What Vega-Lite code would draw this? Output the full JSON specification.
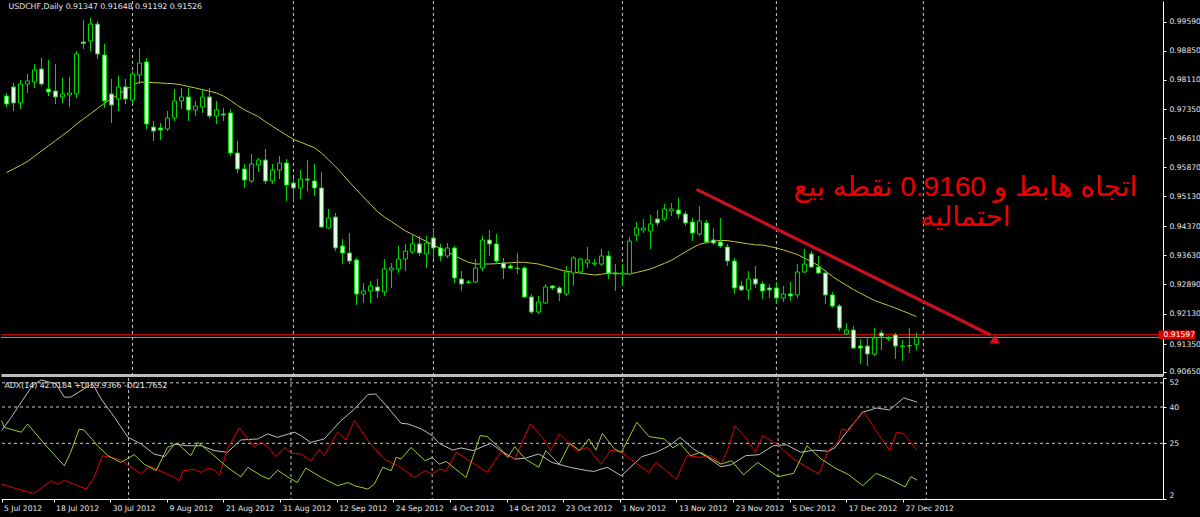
{
  "$schema": "https://vega.github.io/schema/vega-lite/v6.json",
  "background": "#000000",
  "padding": {"left": 0, "top": 0, "right": 0, "bottom": 6},
  "autosize": {"type": "pad"},
  "spacing": 1,
  "resolve": {"scale": {"color": "independent"}},
  "config": {
    "view": {"stroke": null},
    "axis": {"labelFont": "DejaVu Sans", "labelFontSize": 7.6, "labelColor": "#e6e6e6", "domainColor": "#ffffff", "tickColor": "#ffffff", "labelOverlap": false}
  },
  "datasets": {
    "candles": [
      {"i":0,"open":0.97692,"high":0.97769,"low":0.97412,"close":0.97488,"ma":0.95738},
      {"i":1,"open":0.97923,"high":0.98025,"low":0.97309,"close":0.97514,"ma":0.95828},
      {"i":2,"open":0.97514,"high":0.98102,"low":0.97361,"close":0.97999,"ma":0.95920},
      {"i":3,"open":0.97999,"high":0.98254,"low":0.97769,"close":0.98076,"ma":0.96019},
      {"i":4,"open":0.98050,"high":0.98509,"low":0.97897,"close":0.98357,"ma":0.96152},
      {"i":5,"open":0.98382,"high":0.98663,"low":0.97948,"close":0.97999,"ma":0.96288},
      {"i":6,"open":0.97871,"high":0.98612,"low":0.97692,"close":0.97795,"ma":0.96420},
      {"i":7,"open":0.97820,"high":0.98509,"low":0.97488,"close":0.97667,"ma":0.96551},
      {"i":8,"open":0.97667,"high":0.98153,"low":0.97514,"close":0.97744,"ma":0.96686},
      {"i":9,"open":0.97718,"high":0.98178,"low":0.97412,"close":0.97769,"ma":0.96819},
      {"i":10,"open":0.97744,"high":0.98842,"low":0.97641,"close":0.98765,"ma":0.96972},
      {"i":11,"open":0.99071,"high":0.99634,"low":0.98893,"close":0.99033,"ma":0.97107},
      {"i":12,"open":0.99097,"high":0.99685,"low":0.98842,"close":0.99530,"ma":0.97238},
      {"i":13,"open":0.99530,"high":0.99608,"low":0.98637,"close":0.98765,"ma":0.97373},
      {"i":14,"open":0.98740,"high":0.99020,"low":0.97386,"close":0.97565,"ma":0.97509},
      {"i":15,"open":0.97744,"high":0.98127,"low":0.97003,"close":0.97463,"ma":0.97623},
      {"i":16,"open":0.97616,"high":0.98204,"low":0.97309,"close":0.97923,"ma":0.97736},
      {"i":17,"open":0.97923,"high":0.98127,"low":0.97488,"close":0.97616,"ma":0.97851},
      {"i":18,"open":0.97590,"high":0.98331,"low":0.97488,"close":0.98254,"ma":0.97961},
      {"i":19,"open":0.98229,"high":0.98918,"low":0.97999,"close":0.98535,"ma":0.98050},
      {"i":20,"open":0.98561,"high":0.98663,"low":0.96849,"close":0.96977,"ma":0.98042},
      {"i":21,"open":0.96900,"high":0.97054,"low":0.96543,"close":0.96798,"ma":0.98035},
      {"i":22,"open":0.96875,"high":0.97003,"low":0.96569,"close":0.96824,"ma":0.98025},
      {"i":23,"open":0.96849,"high":0.97309,"low":0.96798,"close":0.97130,"ma":0.98014},
      {"i":24,"open":0.97130,"high":0.97871,"low":0.97054,"close":0.97565,"ma":0.98004},
      {"i":25,"open":0.97565,"high":0.97897,"low":0.97360,"close":0.97667,"ma":0.97976},
      {"i":26,"open":0.97667,"high":0.97897,"low":0.97054,"close":0.97335,"ma":0.97935},
      {"i":27,"open":0.97335,"high":0.97565,"low":0.97182,"close":0.97437,"ma":0.97897},
      {"i":28,"open":0.97412,"high":0.97871,"low":0.97258,"close":0.97667,"ma":0.97856},
      {"i":29,"open":0.97667,"high":0.97897,"low":0.97130,"close":0.97182,"ma":0.97815},
      {"i":30,"open":0.97182,"high":0.97565,"low":0.96977,"close":0.97335,"ma":0.97769},
      {"i":31,"open":0.97233,"high":0.97386,"low":0.97054,"close":0.97207,"ma":0.97692},
      {"i":32,"open":0.97258,"high":0.97360,"low":0.96160,"close":0.96237,"ma":0.97580},
      {"i":33,"open":0.96237,"high":0.96543,"low":0.95726,"close":0.95828,"ma":0.97450},
      {"i":34,"open":0.95828,"high":0.95956,"low":0.95343,"close":0.95547,"ma":0.97340},
      {"i":35,"open":0.95521,"high":0.96211,"low":0.95470,"close":0.95956,"ma":0.97251},
      {"i":36,"open":0.95930,"high":0.96109,"low":0.95751,"close":0.96058,"ma":0.97164},
      {"i":37,"open":0.96058,"high":0.96339,"low":0.95445,"close":0.95521,"ma":0.97036},
      {"i":38,"open":0.95521,"high":0.95956,"low":0.95445,"close":0.95802,"ma":0.96919},
      {"i":39,"open":0.95802,"high":0.96160,"low":0.95572,"close":0.95981,"ma":0.96804},
      {"i":40,"open":0.95981,"high":0.96083,"low":0.95010,"close":0.95419,"ma":0.96691},
      {"i":41,"open":0.95470,"high":0.95598,"low":0.95010,"close":0.95343,"ma":0.96584},
      {"i":42,"open":0.95343,"high":0.95802,"low":0.95061,"close":0.95572,"ma":0.96515},
      {"i":43,"open":0.95572,"high":0.96058,"low":0.95266,"close":0.95547,"ma":0.96443},
      {"i":44,"open":0.95521,"high":0.95956,"low":0.95138,"close":0.95343,"ma":0.96372},
      {"i":45,"open":0.95343,"high":0.95751,"low":0.94321,"close":0.94347,"ma":0.96237},
      {"i":46,"open":0.94321,"high":0.94806,"low":0.94296,"close":0.94577,"ma":0.96063},
      {"i":47,"open":0.94602,"high":0.94704,"low":0.93733,"close":0.93811,"ma":0.95889},
      {"i":48,"open":0.93862,"high":0.94040,"low":0.93401,"close":0.93682,"ma":0.95695},
      {"i":49,"open":0.93682,"high":0.94193,"low":0.93401,"close":0.93478,"ma":0.95493},
      {"i":50,"open":0.93504,"high":0.93555,"low":0.92354,"close":0.92636,"ma":0.95302},
      {"i":51,"open":0.92636,"high":0.92916,"low":0.92405,"close":0.92712,"ma":0.95113},
      {"i":52,"open":0.92712,"high":0.92967,"low":0.92405,"close":0.92840,"ma":0.94926},
      {"i":53,"open":0.92814,"high":0.93018,"low":0.92533,"close":0.92712,"ma":0.94737},
      {"i":54,"open":0.92687,"high":0.93529,"low":0.92584,"close":0.93273,"ma":0.94602},
      {"i":55,"open":0.93248,"high":0.93427,"low":0.92789,"close":0.93299,"ma":0.94484},
      {"i":56,"open":0.93273,"high":0.93861,"low":0.93171,"close":0.93529,"ma":0.94364},
      {"i":57,"open":0.93529,"high":0.93913,"low":0.93222,"close":0.93733,"ma":0.94247},
      {"i":58,"open":0.93708,"high":0.94142,"low":0.93657,"close":0.93913,"ma":0.94157},
      {"i":59,"open":0.93913,"high":0.94117,"low":0.93606,"close":0.93682,"ma":0.94065},
      {"i":60,"open":0.93657,"high":0.94117,"low":0.93299,"close":0.93938,"ma":0.93976},
      {"i":61,"open":0.94066,"high":0.94321,"low":0.93529,"close":0.93810,"ma":0.93887},
      {"i":62,"open":0.93810,"high":0.93913,"low":0.93478,"close":0.93606,"ma":0.93797},
      {"i":63,"open":0.93606,"high":0.93938,"low":0.93555,"close":0.93810,"ma":0.93705},
      {"i":64,"open":0.93810,"high":0.93861,"low":0.92916,"close":0.93044,"ma":0.93618},
      {"i":65,"open":0.93018,"high":0.93222,"low":0.92712,"close":0.92891,"ma":0.93529},
      {"i":66,"open":0.92942,"high":0.92993,"low":0.92891,"close":0.92929,"ma":0.93445},
      {"i":67,"open":0.92942,"high":0.93529,"low":0.92916,"close":0.93299,"ma":0.93401},
      {"i":68,"open":0.93299,"high":0.94117,"low":0.93222,"close":0.94015,"ma":0.93401},
      {"i":69,"open":0.94015,"high":0.94270,"low":0.93606,"close":0.93913,"ma":0.93401},
      {"i":70,"open":0.93913,"high":0.94168,"low":0.93427,"close":0.93478,"ma":0.93409},
      {"i":71,"open":0.93427,"high":0.93555,"low":0.93018,"close":0.93299,"ma":0.93422},
      {"i":72,"open":0.93350,"high":0.93401,"low":0.93273,"close":0.93299,"ma":0.93432},
      {"i":73,"open":0.93299,"high":0.93682,"low":0.93146,"close":0.93286,"ma":0.93445},
      {"i":74,"open":0.93299,"high":0.93350,"low":0.92533,"close":0.92559,"ma":0.93445},
      {"i":75,"open":0.92559,"high":0.92635,"low":0.92124,"close":0.92175,"ma":0.93422},
      {"i":76,"open":0.92175,"high":0.92584,"low":0.92124,"close":0.92431,"ma":0.93401},
      {"i":77,"open":0.92405,"high":0.92891,"low":0.92380,"close":0.92814,"ma":0.93353},
      {"i":78,"open":0.92840,"high":0.92865,"low":0.92738,"close":0.92789,"ma":0.93307},
      {"i":79,"open":0.92789,"high":0.92840,"low":0.92456,"close":0.92661,"ma":0.93256},
      {"i":80,"open":0.92636,"high":0.93350,"low":0.92584,"close":0.93197,"ma":0.93215},
      {"i":81,"open":0.93171,"high":0.93606,"low":0.92840,"close":0.93555,"ma":0.93192},
      {"i":82,"open":0.93197,"high":0.93555,"low":0.93171,"close":0.93529,"ma":0.93169},
      {"i":83,"open":0.93427,"high":0.93836,"low":0.93299,"close":0.93504,"ma":0.93143},
      {"i":84,"open":0.93401,"high":0.93529,"low":0.93350,"close":0.93427,"ma":0.93120},
      {"i":85,"open":0.93401,"high":0.93785,"low":0.93350,"close":0.93606,"ma":0.93141},
      {"i":86,"open":0.93606,"high":0.93733,"low":0.93018,"close":0.93171,"ma":0.93164},
      {"i":87,"open":0.93171,"high":0.93401,"low":0.92712,"close":0.93146,"ma":0.93166},
      {"i":88,"open":0.93146,"high":0.93401,"low":0.92840,"close":0.93171,"ma":0.93156},
      {"i":89,"open":0.93146,"high":0.94091,"low":0.93120,"close":0.93989,"ma":0.93146},
      {"i":90,"open":0.94142,"high":0.94474,"low":0.93989,"close":0.94321,"ma":0.93184},
      {"i":91,"open":0.94270,"high":0.94551,"low":0.94193,"close":0.94321,"ma":0.93228},
      {"i":92,"open":0.94244,"high":0.94653,"low":0.93785,"close":0.94423,"ma":0.93274},
      {"i":93,"open":0.94551,"high":0.94781,"low":0.94372,"close":0.94449,"ma":0.93345},
      {"i":94,"open":0.94551,"high":0.94934,"low":0.94500,"close":0.94806,"ma":0.93417},
      {"i":95,"open":0.94755,"high":0.94959,"low":0.94628,"close":0.94806,"ma":0.93496},
      {"i":96,"open":0.94781,"high":0.95087,"low":0.94577,"close":0.94679,"ma":0.93603},
      {"i":97,"open":0.94679,"high":0.94755,"low":0.94372,"close":0.94449,"ma":0.93710},
      {"i":98,"open":0.94474,"high":0.94577,"low":0.93989,"close":0.94193,"ma":0.93812},
      {"i":99,"open":0.94168,"high":0.94883,"low":0.94117,"close":0.94500,"ma":0.93902},
      {"i":100,"open":0.94449,"high":0.94525,"low":0.93913,"close":0.93963,"ma":0.93950},
      {"i":101,"open":0.94015,"high":0.94321,"low":0.93887,"close":0.93938,"ma":0.93979},
      {"i":102,"open":0.93963,"high":0.94577,"low":0.93810,"close":0.93861,"ma":0.94004},
      {"i":103,"open":0.93836,"high":0.93913,"low":0.93350,"close":0.93478,"ma":0.93999},
      {"i":104,"open":0.93478,"high":0.93555,"low":0.92636,"close":0.92789,"ma":0.93971},
      {"i":105,"open":0.92840,"high":0.92967,"low":0.92712,"close":0.92738,"ma":0.93943},
      {"i":106,"open":0.92738,"high":0.93222,"low":0.92482,"close":0.93018,"ma":0.93915},
      {"i":107,"open":0.93018,"high":0.93350,"low":0.92789,"close":0.92891,"ma":0.93889},
      {"i":108,"open":0.92891,"high":0.92967,"low":0.92507,"close":0.92712,"ma":0.93887},
      {"i":109,"open":0.92789,"high":0.92891,"low":0.92533,"close":0.92738,"ma":0.93848},
      {"i":110,"open":0.92789,"high":0.92942,"low":0.92380,"close":0.92533,"ma":0.93810},
      {"i":111,"open":0.92533,"high":0.92840,"low":0.92431,"close":0.92636,"ma":0.93759},
      {"i":112,"open":0.92636,"high":0.92942,"low":0.92456,"close":0.92584,"ma":0.93703},
      {"i":113,"open":0.92610,"high":0.93401,"low":0.92533,"close":0.93197,"ma":0.93641},
      {"i":114,"open":0.93197,"high":0.93785,"low":0.93171,"close":0.93401,"ma":0.93552},
      {"i":115,"open":0.93657,"high":0.93733,"low":0.93299,"close":0.93324,"ma":0.93460},
      {"i":116,"open":0.93324,"high":0.93606,"low":0.93146,"close":0.93171,"ma":0.93363},
      {"i":117,"open":0.93171,"high":0.93248,"low":0.92380,"close":0.92610,"ma":0.93220},
      {"i":118,"open":0.92610,"high":0.92687,"low":0.92277,"close":0.92328,"ma":0.93085},
      {"i":119,"open":0.92328,"high":0.92380,"low":0.91690,"close":0.91766,"ma":0.92967},
      {"i":120,"open":0.91613,"high":0.91894,"low":0.91587,"close":0.91715,"ma":0.92857},
      {"i":121,"open":0.91715,"high":0.91817,"low":0.91230,"close":0.91255,"ma":0.92750},
      {"i":122,"open":0.91306,"high":0.91485,"low":0.90847,"close":0.91255,"ma":0.92653},
      {"i":123,"open":0.91306,"high":0.91511,"low":0.90796,"close":0.91102,"ma":0.92561},
      {"i":124,"open":0.91102,"high":0.91766,"low":0.91051,"close":0.91511,"ma":0.92471},
      {"i":125,"open":0.91639,"high":0.91715,"low":0.91204,"close":0.91562,"ma":0.92405},
      {"i":126,"open":0.91511,"high":0.91562,"low":0.91434,"close":0.91498,"ma":0.92341},
      {"i":127,"open":0.91587,"high":0.91639,"low":0.90975,"close":0.91306,"ma":0.92277},
      {"i":128,"open":0.91306,"high":0.91460,"low":0.90924,"close":0.91294,"ma":0.92206},
      {"i":129,"open":0.91306,"high":0.91766,"low":0.91128,"close":0.91319,"ma":0.92134},
      {"i":130,"open":0.91347,"high":0.91648,"low":0.91192,"close":0.91526,"ma":0.92060}
    ],
    "adx": [
      {"s":"ADX","i":0,"v":30.2},{"s":"ADX","i":1.4,"v":35.8},{"s":"ADX","i":2.8,"v":42},{"s":"ADX","i":4.4,"v":48.9},{"s":"ADX","i":5.6,"v":51.2},{"s":"ADX","i":7.7,"v":49.6},{"s":"ADX","i":8.9,"v":44.1},{"s":"ADX","i":9.8,"v":44.1},{"s":"ADX","i":11.7,"v":47.5},{"s":"ADX","i":12.9,"v":49.6},{"s":"ADX","i":14.1,"v":43.4},{"s":"ADX","i":16,"v":35.8},{"s":"ADX","i":17.9,"v":27.5},{"s":"ADX","i":19.8,"v":24.7},{"s":"ADX","i":21.6,"v":20.6},{"s":"ADX","i":23.1,"v":19.5},{"s":"ADX","i":24.5,"v":24.7},{"s":"ADX","i":26.4,"v":24},{"s":"ADX","i":28.3,"v":24},{"s":"ADX","i":30.1,"v":22},{"s":"ADX","i":32,"v":21.3},{"s":"ADX","i":33,"v":24},{"s":"ADX","i":33.9,"v":26.4},{"s":"ADX","i":36.3,"v":26.8},{"s":"ADX","i":37.7,"v":28.9},{"s":"ADX","i":39.1,"v":27.5},{"s":"ADX","i":41.5,"v":29.6},{"s":"ADX","i":42.4,"v":28.2},{"s":"ADX","i":43.8,"v":25.4},{"s":"ADX","i":45.7,"v":26.8},{"s":"ADX","i":48.1,"v":34.4},{"s":"ADX","i":50,"v":39.2},{"s":"ADX","i":51.9,"v":45.2},{"s":"ADX","i":53,"v":45.4},{"s":"ADX","i":54.7,"v":39.9},{"s":"ADX","i":56.6,"v":33.3},{"s":"ADX","i":57.6,"v":33},{"s":"ADX","i":59.5,"v":30.9},{"s":"ADX","i":61,"v":28.2},{"s":"ADX","i":62,"v":25},{"s":"ADX","i":63.9,"v":22.2},{"s":"ADX","i":65.1,"v":23.1},{"s":"ADX","i":66.8,"v":22},{"s":"ADX","i":69.3,"v":25},{"s":"ADX","i":70.7,"v":22},{"s":"ADX","i":72.7,"v":18.5},{"s":"ADX","i":74.2,"v":18.9},{"s":"ADX","i":76.1,"v":20.6},{"s":"ADX","i":78,"v":17.1},{"s":"ADX","i":80.5,"v":15.1},{"s":"ADX","i":83,"v":13.7},{"s":"ADX","i":83.9,"v":13.4},{"s":"ADX","i":85.8,"v":15.1},{"s":"ADX","i":87.8,"v":11.6},{"s":"ADX","i":90.7,"v":19.5},{"s":"ADX","i":92.7,"v":21.3},{"s":"ADX","i":94.6,"v":24},{"s":"ADX","i":96.1,"v":27.5},{"s":"ADX","i":98,"v":22.7},{"s":"ADX","i":100,"v":19.2},{"s":"ADX","i":101.9,"v":15.3},{"s":"ADX","i":103.4,"v":16.2},{"s":"ADX","i":105.4,"v":19.9},{"s":"ADX","i":107.3,"v":20.3},{"s":"ADX","i":109.3,"v":24},{"s":"ADX","i":111.2,"v":24.4},{"s":"ADX","i":113.2,"v":21.3},{"s":"ADX","i":115.1,"v":22.2},{"s":"ADX","i":117.1,"v":21.7},{"s":"ADX","i":118.1,"v":23.3},{"s":"ADX","i":120,"v":30.9},{"s":"ADX","i":122,"v":37.8},{"s":"ADX","i":123.9,"v":39.6},{"s":"ADX","i":125.8,"v":38.8},{"s":"ADX","i":127.8,"v":43.8},{"s":"ADX","i":129.7,"v":42},
      {"s":"-DI","i":0,"v":8.1},{"s":"-DI","i":2.3,"v":6.1},{"s":"-DI","i":4.6,"v":4.3},{"s":"-DI","i":5.6,"v":6.5},{"s":"-DI","i":7,"v":9.5},{"s":"-DI","i":8,"v":8.1},{"s":"-DI","i":8.9,"v":9.8},{"s":"-DI","i":10.3,"v":8.1},{"s":"-DI","i":12,"v":6.1},{"s":"-DI","i":13.1,"v":10.9},{"s":"-DI","i":14.3,"v":19.9},{"s":"-DI","i":15.5,"v":19.2},{"s":"-DI","i":16.9,"v":18.1},{"s":"-DI","i":18.1,"v":15.7},{"s":"-DI","i":19.8,"v":12.3},{"s":"-DI","i":20.9,"v":15.7},{"s":"-DI","i":22.6,"v":13.4},{"s":"-DI","i":24.5,"v":10.9},{"s":"-DI","i":25.2,"v":9.5},{"s":"-DI","i":25.7,"v":13.7},{"s":"-DI","i":27.3,"v":14.2},{"s":"-DI","i":28.3,"v":13},{"s":"-DI","i":29.2,"v":14.8},{"s":"-DI","i":30.1,"v":14},{"s":"-DI","i":30.9,"v":12},{"s":"-DI","i":32,"v":22.7},{"s":"-DI","i":33.7,"v":31.4},{"s":"-DI","i":34.9,"v":26.8},{"s":"-DI","i":35.8,"v":23.6},{"s":"-DI","i":36.8,"v":25.4},{"s":"-DI","i":37.7,"v":23.6},{"s":"-DI","i":38.9,"v":19.5},{"s":"-DI","i":40.1,"v":23.3},{"s":"-DI","i":41,"v":20.9},{"s":"-DI","i":42.4,"v":20.6},{"s":"-DI","i":43.8,"v":17.8},{"s":"-DI","i":45,"v":22.5},{"s":"-DI","i":45.7,"v":19.9},{"s":"-DI","i":47.6,"v":29.6},{"s":"-DI","i":48.8,"v":26.4},{"s":"-DI","i":50,"v":34.4},{"s":"-DI","i":51.9,"v":26.1},{"s":"-DI","i":54.2,"v":18.5},{"s":"-DI","i":56.6,"v":15},{"s":"-DI","i":58.5,"v":10.9},{"s":"-DI","i":60,"v":13.7},{"s":"-DI","i":61,"v":12.3},{"s":"-DI","i":62,"v":14.4},{"s":"-DI","i":63,"v":13.7},{"s":"-DI","i":64.4,"v":21.3},{"s":"-DI","i":66.3,"v":17.8},{"s":"-DI","i":68.8,"v":13},{"s":"-DI","i":70.7,"v":21.3},{"s":"-DI","i":72.7,"v":18.5},{"s":"-DI","i":74.9,"v":33},{"s":"-DI","i":76.6,"v":27.5},{"s":"-DI","i":77.8,"v":22},{"s":"-DI","i":79,"v":28.9},{"s":"-DI","i":80.5,"v":24.7},{"s":"-DI","i":81.5,"v":22},{"s":"-DI","i":83,"v":23.3},{"s":"-DI","i":84.9,"v":16.4},{"s":"-DI","i":86.3,"v":22.2},{"s":"-DI","i":87.8,"v":21.3},{"s":"-DI","i":90.7,"v":15.1},{"s":"-DI","i":91.7,"v":13},{"s":"-DI","i":92.7,"v":17.1},{"s":"-DI","i":95.6,"v":10.2},{"s":"-DI","i":97.1,"v":19.9},{"s":"-DI","i":99,"v":19.2},{"s":"-DI","i":100.5,"v":19.9},{"s":"-DI","i":101.9,"v":16.4},{"s":"-DI","i":102.9,"v":22.7},{"s":"-DI","i":103.9,"v":32.3},{"s":"-DI","i":105.4,"v":27.5},{"s":"-DI","i":106.8,"v":21.3},{"s":"-DI","i":107.8,"v":28.2},{"s":"-DI","i":109.8,"v":24.7},{"s":"-DI","i":112.2,"v":18.5},{"s":"-DI","i":114.1,"v":15.1},{"s":"-DI","i":115.8,"v":12.3},{"s":"-DI","i":117.1,"v":22},{"s":"-DI","i":118.5,"v":25.4},{"s":"-DI","i":119,"v":30.9},{"s":"-DI","i":120,"v":30.2},{"s":"-DI","i":122,"v":38.5},{"s":"-DI","i":123.9,"v":30.2},{"s":"-DI","i":125.8,"v":22},{"s":"-DI","i":126.8,"v":29.6},{"s":"-DI","i":127.8,"v":28.9},{"s":"-DI","i":129.7,"v":22},
      {"s":"+DI","i":0,"v":34.4},{"s":"+DI","i":0.4,"v":31.6},{"s":"+DI","i":2.8,"v":29.6},{"s":"+DI","i":3.7,"v":33},{"s":"+DI","i":6.1,"v":24.7},{"s":"+DI","i":8.9,"v":15.7},{"s":"+DI","i":9.8,"v":21.3},{"s":"+DI","i":11,"v":30.9},{"s":"+DI","i":11.7,"v":30.5},{"s":"+DI","i":13.6,"v":24},{"s":"+DI","i":15.1,"v":19.9},{"s":"+DI","i":16.9,"v":17.1},{"s":"+DI","i":18.8,"v":20.3},{"s":"+DI","i":20.2,"v":16.4},{"s":"+DI","i":21.9,"v":13.7},{"s":"+DI","i":23.5,"v":23.3},{"s":"+DI","i":24.9,"v":25},{"s":"+DI","i":26.8,"v":19.9},{"s":"+DI","i":27.8,"v":25.4},{"s":"+DI","i":29.7,"v":20.9},{"s":"+DI","i":32,"v":15.1},{"s":"+DI","i":33.9,"v":11.2},{"s":"+DI","i":34.9,"v":15.1},{"s":"+DI","i":36.8,"v":11.6},{"s":"+DI","i":37.9,"v":10.2},{"s":"+DI","i":39.1,"v":13.9},{"s":"+DI","i":40.5,"v":11.2},{"s":"+DI","i":41.9,"v":8.8},{"s":"+DI","i":43.1,"v":14.8},{"s":"+DI","i":45.3,"v":10.9},{"s":"+DI","i":47.6,"v":7.5},{"s":"+DI","i":49.1,"v":8.8},{"s":"+DI","i":50,"v":7.5},{"s":"+DI","i":51.9,"v":6.1},{"s":"+DI","i":52.8,"v":8.1},{"s":"+DI","i":54,"v":15.1},{"s":"+DI","i":55.2,"v":13.7},{"s":"+DI","i":55.9,"v":19.2},{"s":"+DI","i":56.6,"v":18.5},{"s":"+DI","i":58,"v":23.3},{"s":"+DI","i":60,"v":17.8},{"s":"+DI","i":61,"v":19.2},{"s":"+DI","i":62,"v":16.4},{"s":"+DI","i":63,"v":17.5},{"s":"+DI","i":65.8,"v":10.9},{"s":"+DI","i":67.8,"v":28.2},{"s":"+DI","i":68.8,"v":27.8},{"s":"+DI","i":70.7,"v":22.7},{"s":"+DI","i":71.7,"v":19.2},{"s":"+DI","i":72.7,"v":23.6},{"s":"+DI","i":74.2,"v":18.5},{"s":"+DI","i":76.1,"v":15.1},{"s":"+DI","i":77.1,"v":22},{"s":"+DI","i":79,"v":16.4},{"s":"+DI","i":80.5,"v":25},{"s":"+DI","i":81.9,"v":22},{"s":"+DI","i":83.2,"v":26.8},{"s":"+DI","i":84.2,"v":22.2},{"s":"+DI","i":85.1,"v":29.1},{"s":"+DI","i":86.8,"v":22.7},{"s":"+DI","i":87.8,"v":21.3},{"s":"+DI","i":90,"v":33.7},{"s":"+DI","i":91.7,"v":27.8},{"s":"+DI","i":93.9,"v":26.8},{"s":"+DI","i":95.1,"v":23.1},{"s":"+DI","i":96.1,"v":25},{"s":"+DI","i":97.6,"v":19.9},{"s":"+DI","i":99,"v":21.3},{"s":"+DI","i":101.9,"v":16.4},{"s":"+DI","i":103.4,"v":17.8},{"s":"+DI","i":105.1,"v":12},{"s":"+DI","i":107.1,"v":17.1},{"s":"+DI","i":110,"v":11.2},{"s":"+DI","i":112.2,"v":12.6},{"s":"+DI","i":114.1,"v":24},{"s":"+DI","i":116.1,"v":18.5},{"s":"+DI","i":118.1,"v":14.8},{"s":"+DI","i":120,"v":12},{"s":"+DI","i":122,"v":7.5},{"s":"+DI","i":123.9,"v":12.6},{"s":"+DI","i":125.8,"v":10.2},{"s":"+DI","i":128,"v":7},{"s":"+DI","i":128.8,"v":11.2},{"s":"+DI","i":129.7,"v":9.8}
    ],
    "grid": [{"i":18},{"i":41},{"i":61},{"i":88},{"i":110},{"i":131}]
  },
  "vconcat": [
    {
      "width": 1162,
      "height": 374,
      "layer": [
        {
          "data": {"name": "grid"},
          "mark": {"type": "rule", "color": "#c8c8c8", "strokeWidth": 1, "strokeDash": [3, 3]},
          "encoding": {
            "x": {"field": "i", "type": "quantitative", "title": null, "scale": {"domain": [-0.071, 164.52], "nice": false, "zero": false},
                  "axis": {"title": null, "labels": false, "ticks": false, "grid": false, "domain": true, "domainColor": "#bdbdbd", "domainWidth": 3}}
          }
        },
        {
          "data": {"values": [{"p": 0.91526}]},
          "mark": {"type": "rule", "strokeWidth": 1, "color": "#9a9a9a"},
          "encoding": {
            "y": {"field": "p", "type": "quantitative", "title": null, "scale": {"domain": [0.90566, 1.00119], "nice": false, "zero": false},
                  "axis": {"title": null, "orient": "right", "grid": false, "values": [0.9959, 0.9885, 0.9811, 0.9735, 0.9661, 0.9587, 0.9513, 0.9437, 0.9363, 0.9289, 0.9213, 0.9135, 0.9065], "format": ".5f", "tickSize": 3, "labelPadding": 3, "domainWidth": 1}}
          }
        },
        {
          "data": {"values": [{"p": 0.91597}]},
          "mark": {"type": "rule", "strokeWidth": 1, "color": "#e00000"},
          "encoding": {
            "y": {"field": "p", "type": "quantitative", "title": null, "scale": {"domain": [0.90566, 1.00119], "nice": false, "zero": false},
                  "axis": {"title": null, "orient": "right", "grid": false, "values": [0.9959, 0.9885, 0.9811, 0.9735, 0.9661, 0.9587, 0.9513, 0.9437, 0.9363, 0.9289, 0.9213, 0.9135, 0.9065], "format": ".5f", "tickSize": 3, "labelPadding": 3, "domainWidth": 1}}
          }
        },
        {
          "data": {"name": "candles"},
          "mark": {"type": "line", "color": "#c8c43c", "strokeWidth": 1, "clip": true},
          "encoding": {
            "x": {"field": "i", "type": "quantitative", "title": null, "scale": {"domain": [-0.071, 164.52], "nice": false, "zero": false},
                  "axis": {"title": null, "labels": false, "ticks": false, "grid": false, "domain": true, "domainColor": "#bdbdbd", "domainWidth": 3}},
            "y": {"field": "ma", "type": "quantitative", "title": null, "scale": {"domain": [0.90566, 1.00119], "nice": false, "zero": false},
                  "axis": {"title": null, "orient": "right", "grid": false, "values": [0.9959, 0.9885, 0.9811, 0.9735, 0.9661, 0.9587, 0.9513, 0.9437, 0.9363, 0.9289, 0.9213, 0.9135, 0.9065], "format": ".5f", "tickSize": 3, "labelPadding": 3, "domainWidth": 1}}
          }
        },
        {
          "data": {"name": "candles"},
          "mark": {"type": "rule", "color": "#00dd00", "strokeWidth": 1, "clip": true},
          "encoding": {
            "x": {"field": "i", "type": "quantitative", "title": null, "scale": {"domain": [-0.071, 164.52], "nice": false, "zero": false},
                  "axis": {"title": null, "labels": false, "ticks": false, "grid": false, "domain": true, "domainColor": "#bdbdbd", "domainWidth": 3}},
            "y": {"field": "low", "type": "quantitative", "title": null, "scale": {"domain": [0.90566, 1.00119], "nice": false, "zero": false},
                  "axis": {"title": null, "orient": "right", "grid": false, "values": [0.9959, 0.9885, 0.9811, 0.9735, 0.9661, 0.9587, 0.9513, 0.9437, 0.9363, 0.9289, 0.9213, 0.9135, 0.9065], "format": ".5f", "tickSize": 3, "labelPadding": 3, "domainWidth": 1}},
            "y2": {"field": "high"}
          }
        },
        {
          "data": {"name": "candles"},
          "mark": {"type": "bar", "width": 4, "stroke": "#00dd00", "strokeWidth": 1, "clip": true},
          "encoding": {
            "x": {"field": "i", "type": "quantitative", "title": null, "scale": {"domain": [-0.071, 164.52], "nice": false, "zero": false},
                  "axis": {"title": null, "labels": false, "ticks": false, "grid": false, "domain": true, "domainColor": "#bdbdbd", "domainWidth": 3}},
            "y": {"field": "open", "type": "quantitative", "title": null, "scale": {"domain": [0.90566, 1.00119], "nice": false, "zero": false},
                  "axis": {"title": null, "orient": "right", "grid": false, "values": [0.9959, 0.9885, 0.9811, 0.9735, 0.9661, 0.9587, 0.9513, 0.9437, 0.9363, 0.9289, 0.9213, 0.9135, 0.9065], "format": ".5f", "tickSize": 3, "labelPadding": 3, "domainWidth": 1}},
            "y2": {"field": "close"},
            "fill": {"condition": {"test": "datum.close > datum.open", "value": "#000000"}, "value": "#e4fbe4"}
          }
        },
        {
          "data": {"values": [{"i": 98.6, "p": 0.95309}, {"i": 140.6, "p": 0.91588}]},
          "mark": {"type": "line", "color": "#c8101e", "strokeWidth": 3.2},
          "encoding": {
            "x": {"field": "i", "type": "quantitative", "title": null, "scale": {"domain": [-0.071, 164.52], "nice": false, "zero": false},
                  "axis": {"title": null, "labels": false, "ticks": false, "grid": false, "domain": true, "domainColor": "#bdbdbd", "domainWidth": 3}},
            "y": {"field": "p", "type": "quantitative", "title": null, "scale": {"domain": [0.90566, 1.00119], "nice": false, "zero": false},
                  "axis": {"title": null, "orient": "right", "grid": false, "values": [0.9959, 0.9885, 0.9811, 0.9735, 0.9661, 0.9587, 0.9513, 0.9437, 0.9363, 0.9289, 0.9213, 0.9135, 0.9065], "format": ".5f", "tickSize": 3, "labelPadding": 3, "domainWidth": 1}}
          }
        },
        {
          "data": {"values": [{"i": 141.2, "p": 0.91486}]},
          "mark": {"type": "point", "shape": "triangle-up", "filled": true, "color": "#d0101e", "size": 110, "opacity": 1},
          "encoding": {
            "x": {"field": "i", "type": "quantitative", "title": null, "scale": {"domain": [-0.071, 164.52], "nice": false, "zero": false},
                  "axis": {"title": null, "labels": false, "ticks": false, "grid": false, "domain": true, "domainColor": "#bdbdbd", "domainWidth": 3}},
            "y": {"field": "p", "type": "quantitative", "title": null, "scale": {"domain": [0.90566, 1.00119], "nice": false, "zero": false},
                  "axis": {"title": null, "orient": "right", "grid": false, "values": [0.9959, 0.9885, 0.9811, 0.9735, 0.9661, 0.9587, 0.9513, 0.9437, 0.9363, 0.9289, 0.9213, 0.9135, 0.9065], "format": ".5f", "tickSize": 3, "labelPadding": 3, "domainWidth": 1}}
          }
        },
        {
          "data": {"values": [{"i": 137, "p": 0.95138, "t": "اتجاه هابط و 0.9160 نقطه بيع"}, {"i": 137, "p": 0.94372, "t": "احتماليه"}]},
          "mark": {"type": "text", "align": "center", "baseline": "alphabetic", "font": "Liberation Sans, DejaVu Sans", "fontSize": 28, "color": "#ee0000"},
          "encoding": {
            "x": {"field": "i", "type": "quantitative", "title": null, "scale": {"domain": [-0.071, 164.52], "nice": false, "zero": false},
                  "axis": {"title": null, "labels": false, "ticks": false, "grid": false, "domain": true, "domainColor": "#bdbdbd", "domainWidth": 3}},
            "y": {"field": "p", "type": "quantitative", "title": null, "scale": {"domain": [0.90566, 1.00119], "nice": false, "zero": false},
                  "axis": {"title": null, "orient": "right", "grid": false, "values": [0.9959, 0.9885, 0.9811, 0.9735, 0.9661, 0.9587, 0.9513, 0.9437, 0.9363, 0.9289, 0.9213, 0.9135, 0.9065], "format": ".5f", "tickSize": 3, "labelPadding": 3, "domainWidth": 1}},
            "text": {"field": "t", "type": "nominal"}
          }
        },
        {
          "data": {"values": [{"i": 0, "p": 1.00119, "t": "USDCHF,Daily  0.91347 0.91648 0.91192 0.91526"}]},
          "mark": {"type": "text", "align": "left", "baseline": "top", "dx": 2, "dy": 2, "font": "DejaVu Sans", "fontSize": 7.8, "color": "#e6e6e6"},
          "encoding": {
            "x": {"field": "i", "type": "quantitative", "title": null, "scale": {"domain": [-0.071, 164.52], "nice": false, "zero": false},
                  "axis": {"title": null, "labels": false, "ticks": false, "grid": false, "domain": true, "domainColor": "#bdbdbd", "domainWidth": 3}},
            "y": {"field": "p", "type": "quantitative", "title": null, "scale": {"domain": [0.90566, 1.00119], "nice": false, "zero": false},
                  "axis": {"title": null, "orient": "right", "grid": false, "values": [0.9959, 0.9885, 0.9811, 0.9735, 0.9661, 0.9587, 0.9513, 0.9437, 0.9363, 0.9289, 0.9213, 0.9135, 0.9065], "format": ".5f", "tickSize": 3, "labelPadding": 3, "domainWidth": 1}},
            "text": {"field": "t", "type": "nominal"}
          }
        },
        {
          "data": {"values": [{"i": 164.6, "i2": 169.8, "p": 0.91703, "p2": 0.91485}]},
          "mark": {"type": "rect", "color": "#e00000", "clip": false},
          "encoding": {
            "x": {"field": "i", "type": "quantitative", "title": null, "scale": {"domain": [-0.071, 164.52], "nice": false, "zero": false},
                  "axis": {"title": null, "labels": false, "ticks": false, "grid": false, "domain": true, "domainColor": "#bdbdbd", "domainWidth": 3}},
            "x2": {"field": "i2"},
            "y": {"field": "p", "type": "quantitative", "title": null, "scale": {"domain": [0.90566, 1.00119], "nice": false, "zero": false},
                  "axis": {"title": null, "orient": "right", "grid": false, "values": [0.9959, 0.9885, 0.9811, 0.9735, 0.9661, 0.9587, 0.9513, 0.9437, 0.9363, 0.9289, 0.9213, 0.9135, 0.9065], "format": ".5f", "tickSize": 3, "labelPadding": 3, "domainWidth": 1}},
            "y2": {"field": "p2"}
          }
        },
        {
          "data": {"values": [{"i": 164.6, "p": 0.91597, "t": "0.91597"}]},
          "mark": {"type": "text", "align": "left", "baseline": "middle", "dx": 5, "font": "DejaVu Sans", "fontSize": 7.6, "color": "#ffffff", "clip": false},
          "encoding": {
            "x": {"field": "i", "type": "quantitative", "title": null, "scale": {"domain": [-0.071, 164.52], "nice": false, "zero": false},
                  "axis": {"title": null, "labels": false, "ticks": false, "grid": false, "domain": true, "domainColor": "#bdbdbd", "domainWidth": 3}},
            "y": {"field": "p", "type": "quantitative", "title": null, "scale": {"domain": [0.90566, 1.00119], "nice": false, "zero": false},
                  "axis": {"title": null, "orient": "right", "grid": false, "values": [0.9959, 0.9885, 0.9811, 0.9735, 0.9661, 0.9587, 0.9513, 0.9437, 0.9363, 0.9289, 0.9213, 0.9135, 0.9065], "format": ".5f", "tickSize": 3, "labelPadding": 3, "domainWidth": 1}},
            "text": {"field": "t", "type": "nominal"}
          }
        }
      ]
    },
    {
      "width": 1162,
      "height": 121,
      "layer": [
        {
          "data": {"name": "grid"},
          "mark": {"type": "rule", "color": "#c8c8c8", "strokeWidth": 1, "strokeDash": [3, 3]},
          "encoding": {
            "x": {"field": "i", "type": "quantitative", "title": null, "scale": {"domain": [-0.071, 164.52], "nice": false, "zero": false},
                  "axis": {"title": null, "grid": false, "domain": true, "domainWidth": 1, "ticks": true, "tickSize": 3, "labelPadding": 2, "labelAlign": "left", "labelOffset": 2, "labelFlush": false, "labelBaseline": "top",
                           "values": [0, 7.38, 15.40, 23.43, 31.44, 39.46, 47.48, 55.50, 63.53, 71.54, 79.56, 87.58, 95.60, 103.63, 111.64, 119.66, 127.68],
                           "labelExpr": "['5 Jul 2012','18 Jul 2012','30 Jul 2012','9 Aug 2012','21 Aug 2012','31 Aug 2012','12 Sep 2012','24 Sep 2012','4 Oct 2012','14 Oct 2012','23 Oct 2012','1 Nov 2012','13 Nov 2012','23 Nov 2012','5 Dec 2012','17 Dec 2012','27 Dec 2012'][round((datum.value + 0.64) / 8.02)]"}}
          }
        },
        {
          "data": {"values": [{"v": 25}, {"v": 40}, {"v": 50}]},
          "mark": {"type": "rule", "color": "#c8c8c8", "strokeWidth": 1, "strokeDash": [3, 3]},
          "encoding": {
            "y": {"field": "v", "type": "quantitative", "title": null, "scale": {"domain": [2, 52], "nice": false, "zero": false},
                  "axis": {"title": null, "orient": "right", "grid": false, "values": [2, 25, 40, 52], "format": "d", "tickSize": 3, "labelPadding": 3, "labelFlush": true, "domainWidth": 1}}
          }
        },
        {
          "data": {"name": "adx"},
          "mark": {"type": "line", "strokeWidth": 1, "clip": true},
          "encoding": {
            "x": {"field": "i", "type": "quantitative", "title": null, "scale": {"domain": [-0.071, 164.52], "nice": false, "zero": false},
                  "axis": {"title": null, "grid": false, "domain": true, "domainWidth": 1, "ticks": true, "tickSize": 3, "labelPadding": 2, "labelAlign": "left", "labelOffset": 2, "labelFlush": false, "labelBaseline": "top",
                           "values": [0, 7.38, 15.40, 23.43, 31.44, 39.46, 47.48, 55.50, 63.53, 71.54, 79.56, 87.58, 95.60, 103.63, 111.64, 119.66, 127.68],
                           "labelExpr": "['5 Jul 2012','18 Jul 2012','30 Jul 2012','9 Aug 2012','21 Aug 2012','31 Aug 2012','12 Sep 2012','24 Sep 2012','4 Oct 2012','14 Oct 2012','23 Oct 2012','1 Nov 2012','13 Nov 2012','23 Nov 2012','5 Dec 2012','17 Dec 2012','27 Dec 2012'][round((datum.value + 0.64) / 8.02)]"}},
            "y": {"field": "v", "type": "quantitative", "title": null, "scale": {"domain": [2, 52], "nice": false, "zero": false},
                  "axis": {"title": null, "orient": "right", "grid": false, "values": [2, 25, 40, 52], "format": "d", "tickSize": 3, "labelPadding": 3, "labelFlush": true, "domainWidth": 1}},
            "color": {"field": "s", "type": "nominal", "scale": {"domain": ["ADX", "+DI", "-DI"], "range": ["#bdbdbd", "#9acd32", "#e00000"]}, "legend": null}
          }
        },
        {
          "data": {"values": [{"i": 0, "v": 52, "t": "ADX(14) 42.0184 +DI19.9366 -DI21.7652"}]},
          "mark": {"type": "text", "align": "left", "baseline": "top", "dx": 3, "dy": 4, "font": "DejaVu Sans", "fontSize": 7.8, "color": "#e6e6e6"},
          "encoding": {
            "x": {"field": "i", "type": "quantitative", "title": null, "scale": {"domain": [-0.071, 164.52], "nice": false, "zero": false},
                  "axis": {"title": null, "grid": false, "domain": true, "domainWidth": 1, "ticks": true, "tickSize": 3, "labelPadding": 2, "labelAlign": "left", "labelOffset": 2, "labelFlush": false, "labelBaseline": "top",
                           "values": [0, 7.38, 15.40, 23.43, 31.44, 39.46, 47.48, 55.50, 63.53, 71.54, 79.56, 87.58, 95.60, 103.63, 111.64, 119.66, 127.68],
                           "labelExpr": "['5 Jul 2012','18 Jul 2012','30 Jul 2012','9 Aug 2012','21 Aug 2012','31 Aug 2012','12 Sep 2012','24 Sep 2012','4 Oct 2012','14 Oct 2012','23 Oct 2012','1 Nov 2012','13 Nov 2012','23 Nov 2012','5 Dec 2012','17 Dec 2012','27 Dec 2012'][round((datum.value + 0.64) / 8.02)]"}},
            "y": {"field": "v", "type": "quantitative", "title": null, "scale": {"domain": [2, 52], "nice": false, "zero": false},
                  "axis": {"title": null, "orient": "right", "grid": false, "values": [2, 25, 40, 52], "format": "d", "tickSize": 3, "labelPadding": 3, "labelFlush": true, "domainWidth": 1}},
            "text": {"field": "t", "type": "nominal"}
          }
        }
      ]
    }
  ]
}
